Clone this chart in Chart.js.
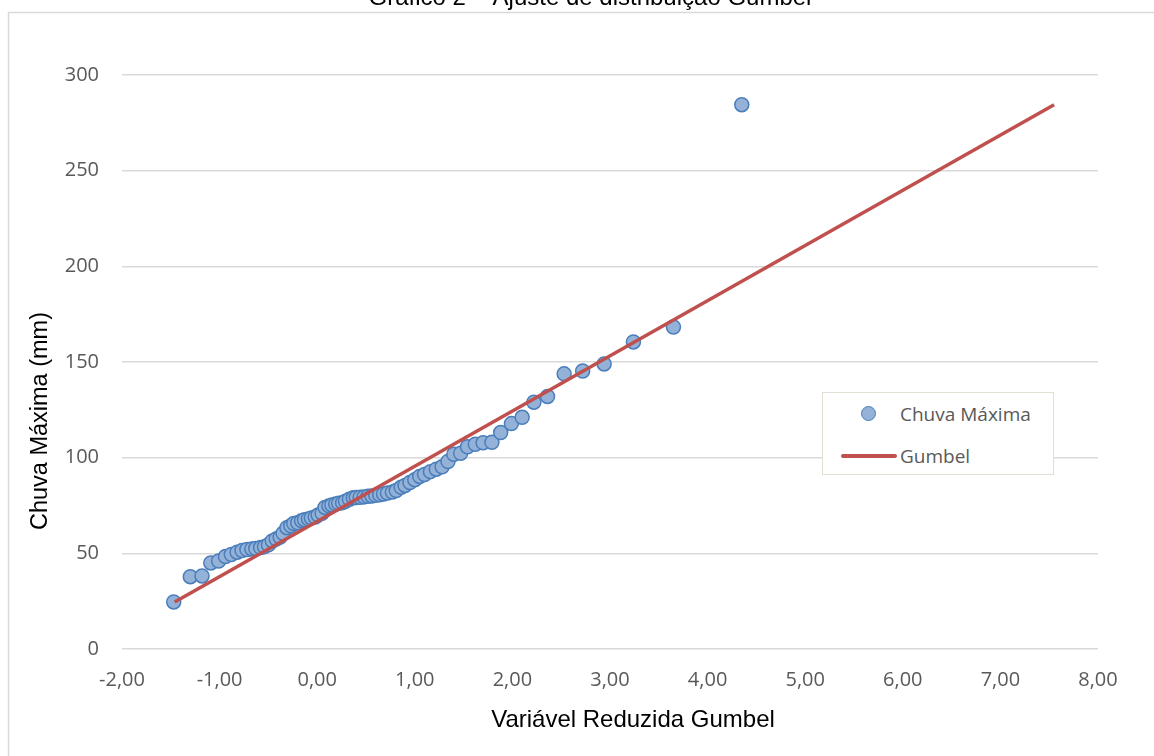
<!DOCTYPE html>
<html>
<head>
<meta charset="utf-8">
<script src="https://cdn.jsdelivr.net/npm/chart.js@4.4.1/dist/chart.umd.min.js"></script>
<style>
  html, body { margin: 0; padding: 0; background: #fff; overflow: hidden; }
  #wrap { position: relative; width: 1154px; height: 756px; }
  #legend {
    position: absolute; left: 822px; top: 392px; width: 230px; height: 81px;
    background: #fff; border: 1px solid #e4dfd5;
    font-family: "Open Sans", sans-serif; font-size: 19px; color: #595959;
  }
  .item { position: absolute; left: 0; height: 30px; line-height: 30px; }
  .item span.txt { position: absolute; left: 77px; white-space: nowrap; }
  .dot {
    position: absolute; left: 38px; top: 7px; width: 13px; height: 13px; border-radius: 50%;
    background: #94b2d8; border: 1.5px solid #4a7ebb;
  }
  .bar { position: absolute; left: 18px; top: 13px; width: 56px; height: 4px; background: #c0504d; border-radius: 2px; }
</style>
</head>
<body>
<div id="wrap">
  <canvas id="chart" width="1154" height="756"></canvas>
  <div id="legend">
    <div class="item" style="top:6px"><i class="dot"></i><span class="txt">Chuva Máxima</span></div>
    <div class="item" style="top:48px"><i class="bar"></i><span class="txt">Gumbel</span></div>
  </div>
</div>
<script>
// Variável reduzida de Gumbel (eixo x) para cada observação
const reducedX = [
  -1.47, -1.30, -1.18, -1.09, -1.01, -0.94, -0.88, -0.82, -0.77, -0.72,
  -0.67, -0.63, -0.58, -0.54, -0.50, -0.46, -0.42, -0.38, -0.35, -0.31,
  -0.27, -0.24, -0.20, -0.16, -0.13, -0.09, -0.06, -0.02, 0.01, 0.05,
  0.08, 0.12, 0.15, 0.19, 0.22, 0.26, 0.29, 0.33, 0.37, 0.40,
  0.44, 0.48, 0.52, 0.56, 0.60, 0.64, 0.68, 0.72, 0.77, 0.81,
  0.86, 0.90, 0.95, 1.00, 1.05, 1.10, 1.16, 1.22, 1.28, 1.34,
  1.40, 1.47, 1.54, 1.62, 1.70, 1.79, 1.88, 1.99, 2.10, 2.22,
  2.36, 2.53, 2.72, 2.94, 3.24, 3.65, 4.35
];
// Chuva máxima observada (mm)
const chuvaMax = [
  24.6, 37.8, 38.2, 45.0, 46.0, 48.3, 49.4, 50.6, 51.5, 52.0,
  52.3, 52.5, 53.0, 53.5, 54.5, 56.5, 57.5, 58.5, 60.5, 63.4,
  64.4, 65.6, 66.0, 67.0, 67.6, 68.0, 68.5, 69.0, 70.0, 71.0,
  74.0, 74.8, 75.3, 75.8, 76.2, 76.5, 77.2, 78.3, 79.0, 79.2,
  79.3, 79.5, 79.8, 80.0, 80.3, 80.6, 81.0, 81.5, 82.0, 82.8,
  84.5, 85.5, 87.0, 88.5, 90.2, 91.2, 92.7, 94.0, 95.2, 98.0,
  101.8, 102.3, 105.7, 107.0, 107.8, 108.0, 113.1, 117.8, 121.1, 129.0,
  132.0, 143.8, 145.3, 149.0, 160.5, 168.3, 284.5
];
// Reta de ajuste Gumbel
const gumbelX = [-1.46, 7.55];
const gumbelY = [24.6, 284.4];

const xTickLabels = ['-2,00', '-1,00', '0,00', '1,00', '2,00', '3,00', '4,00', '5,00', '6,00', '7,00', '8,00'];
const yTickLabels = ['0', '50', '100', '150', '200', '250', '300'];

const chartTitle = 'Gráfico 2 – Ajuste de distribuição Gumbel';
const xTitle = 'Variável Reduzida Gumbel';
const yTitle = 'Chuva Máxima (mm)';

// frame, title and axis titles
const decor = {
    id: 'decor',
    beforeDraw(chart) {
        const ctx = chart.ctx;
        ctx.save();
        ctx.fillStyle = '#fff';
        ctx.fillRect(0, 0, chart.width, chart.height);
        ctx.strokeStyle = '#d9d9d9';
        ctx.lineWidth = 1.5;
        ctx.beginPath();
        ctx.moveTo(8.5, chart.height);
        ctx.lineTo(8.5, 12.5);
        ctx.lineTo(chart.width, 12.5);
        ctx.stroke();
        ctx.restore();
    },
    afterDraw(chart) {
        const ctx = chart.ctx;
        ctx.save();
        ctx.fillStyle = '#000';
        ctx.font = '24px "Liberation Sans", Arial, sans-serif';
        ctx.textAlign = 'center';
        ctx.textBaseline = 'alphabetic';
        ctx.fillText(chartTitle, 590, 5);
        ctx.fillText(xTitle, 633, 727);
        ctx.font = '23.5px "Liberation Sans", Arial, sans-serif';
        ctx.translate(41, 421);
        ctx.rotate(-Math.PI / 2);
        ctx.textBaseline = 'middle';
        ctx.fillText(yTitle, 0, 0);
        ctx.restore();
    }
};

const ctx = document.getElementById('chart').getContext('2d');
const tickFont = { family: '"Open Sans", sans-serif', size: 20 };

new Chart(ctx, {
    type: 'scatter',
    data: {
        datasets: [
            {
                type: 'line',
                label: 'Gumbel',
                data: gumbelX.map((x, i) => ({ x: x, y: gumbelY[i] })),
                borderColor: '#c0504d',
                borderWidth: 3.5,
                pointRadius: 0,
                fill: false,
                order: 0
            },
            {
                label: 'Chuva Máxima',
                data: reducedX.map((x, i) => ({ x: x, y: chuvaMax[i] })),
                backgroundColor: '#94b2d8',
                borderColor: '#4a7ebb',
                borderWidth: 1.5,
                pointRadius: 7,
                order: 1
            }
        ]
    },
    options: {
        responsive: false,
        animation: false,
        devicePixelRatio: 1,
        layout: { padding: { left: 0, top: 75, right: 56, bottom: 0 } },
        plugins: {
            legend: { display: false },
            tooltip: { enabled: false }
        },
        scales: {
            x: {
                type: 'linear',
                min: -2,
                max: 8,
                afterFit: (scale) => { scale.height = 107; },
                grid: { display: false, drawTicks: false },
                border: { display: false },
                ticks: {
                    stepSize: 1,
                    padding: 19,
                    color: '#595959',
                    font: tickFont,
                    callback: (v) => xTickLabels[Math.round(v) + 2]
                }
            },
            y: {
                min: 0,
                max: 300,
                afterFit: (scale) => { scale.width = 122; },
                grid: { color: '#d9d9d9', lineWidth: 1.5, drawTicks: false },
                border: { display: false },
                ticks: {
                    stepSize: 50,
                    padding: 23,
                    color: '#595959',
                    font: tickFont,
                    callback: (v) => yTickLabels[Math.round(v / 50)]
                }
            }
        }
    },
    plugins: [decor]
});
</script>
</body>
</html>
